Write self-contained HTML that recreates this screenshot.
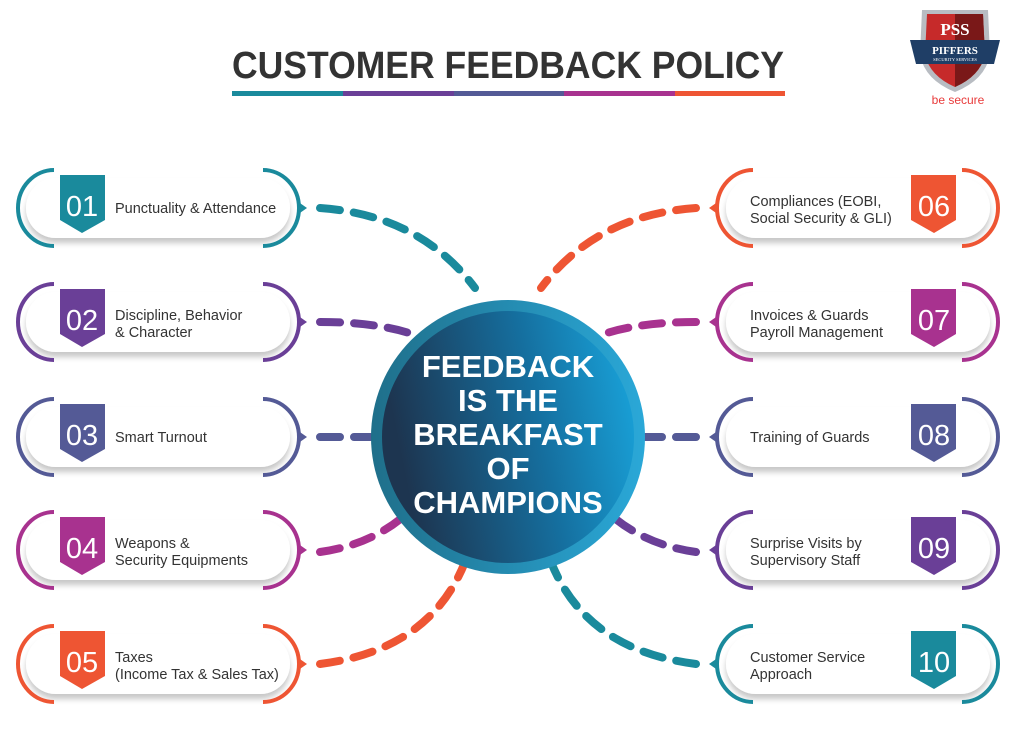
<!DOCTYPE html>
<html><head><meta charset="utf-8"><style>
html,body{margin:0;padding:0;background:#fff}
svg{display:block;font-family:"Liberation Sans",Arial,sans-serif}
</style></head><body>
<svg width="1024" height="730" viewBox="0 0 1024 730" xmlns="http://www.w3.org/2000/svg">
<defs>
<linearGradient id="ig" x1="0" x2="1" y1="0.2" y2="0"><stop offset="0" stop-color="#1d3550"/><stop offset="0.55" stop-color="#156f9f"/><stop offset="1" stop-color="#19a8e0"/></linearGradient>
<linearGradient id="og" x1="0" x2="1"><stop offset="0" stop-color="#1f6f8a"/><stop offset="1" stop-color="#2aa8d8"/></linearGradient>
<filter id="sh" x="-10%" y="-20%" width="120%" height="150%"><feDropShadow dx="0" dy="5" stdDeviation="3" flood-color="#000" flood-opacity="0.22"/></filter>
<g id="pill">
<rect x="26" y="-30" width="264" height="60" rx="30" fill="#fff" filter="url(#sh)"/>
</g>
</defs>

<text x="508" y="78" text-anchor="middle" font-size="38" font-weight="bold" fill="#333" textLength="552" lengthAdjust="spacingAndGlyphs">CUSTOMER FEEDBACK POLICY</text>
<rect x="232" y="91" width="111" height="5" fill="#1a8a9c"/>
<rect x="343" y="91" width="111" height="5" fill="#6a3f97"/>
<rect x="454" y="91" width="110" height="5" fill="#545a96"/>
<rect x="564" y="91" width="111" height="5" fill="#a8328f"/>
<rect x="675" y="91" width="110" height="5" fill="#ee5533"/>

<!-- logo -->
<path d="M922 10 L988 10 L990 55 Q985 80 955 92 Q925 80 920 55 Z" fill="#b8bcc2"/>
<path d="M927 14 L983 14 L985 55 Q980 76 955 87 Q930 76 925 55 Z" fill="#c62a2a"/>
<path d="M955 14 L983 14 L985 55 Q980 76 955 87 Z" fill="#7a1818"/>
<text x="955" y="35" text-anchor="middle" font-family="Liberation Serif,serif" font-weight="bold" font-size="17" fill="#fff">PSS</text>
<path d="M910 40 L1000 40 L994 64 L916 64 Z" fill="#1f3e66"/>
<text x="955" y="54" text-anchor="middle" font-family="Liberation Serif,serif" font-weight="bold" font-size="11" fill="#fff">PIFFERS</text>
<text x="955" y="61" text-anchor="middle" font-family="Liberation Serif,serif" font-size="4.5" fill="#fff">SECURITY SERVICES</text>
<text x="958" y="104" text-anchor="middle" font-size="12" fill="#e83a3a">be secure</text>

<!-- connectors -->
<g fill="none" stroke-width="8" stroke-linecap="round" stroke-dasharray="20 14">
<path d="M320 208 Q420 215 475 288" stroke="#1a8a9c"/>
<path d="M320 322 Q380 322 418 336" stroke="#6a3f97"/>
<path d="M320 437 L375 437" stroke="#545a96"/>
<path d="M320 552 Q370 545 404 516" stroke="#a8328f"/>
<path d="M320 664 Q430 650 465 562" stroke="#ee5533"/>
<path d="M696 208 Q596 215 541 288" stroke="#ee5533"/>
<path d="M696 322 Q636 322 598 336" stroke="#a8328f"/>
<path d="M696 437 L641 437" stroke="#545a96"/>
<path d="M696 552 Q646 545 612 516" stroke="#6a3f97"/>
<path d="M696 664 Q586 650 551 562" stroke="#1a8a9c"/>
</g>

<!-- circle -->
<circle cx="508" cy="437" r="137" fill="url(#og)"/>
<circle cx="508" cy="437" r="126" fill="url(#ig)"/>
<g fill="#fff" font-weight="bold" font-size="31" text-anchor="middle">
<text x="508" y="377">FEEDBACK</text>
<text x="508" y="411">IS THE</text>
<text x="508" y="445">BREAKFAST</text>
<text x="508" y="479">OF</text>
<text x="508" y="513">CHAMPIONS</text>
</g>

<!-- left items -->
<g>
<g transform="translate(0,208)"><use href="#pill"/><path d="M54 -38 A36 38 0 0 0 54 38" fill="none" stroke="#1a8a9c" stroke-width="4"/><path d="M263 -38 A36 38 0 0 1 263 38" fill="none" stroke="#1a8a9c" stroke-width="4"/><path d="M297 -7 L307 0 L297 7Z" fill="#1a8a9c"/><path d="M60 -33 L105 -33 L105 12 L82 25 L60 12Z" fill="#1a8a9c"/><text x="82" y="8" text-anchor="middle" font-size="29" fill="#fff">01</text><text x="115" y="5" font-size="14.5" fill="#333">Punctuality &amp; Attendance</text></g>
<g transform="translate(0,322)"><use href="#pill"/><path d="M54 -38 A36 38 0 0 0 54 38" fill="none" stroke="#6a3f97" stroke-width="4"/><path d="M263 -38 A36 38 0 0 1 263 38" fill="none" stroke="#6a3f97" stroke-width="4"/><path d="M297 -7 L307 0 L297 7Z" fill="#6a3f97"/><path d="M60 -33 L105 -33 L105 12 L82 25 L60 12Z" fill="#6a3f97"/><text x="82" y="8" text-anchor="middle" font-size="29" fill="#fff">02</text><text x="115" y="-2" font-size="14.5" fill="#333">Discipline, Behavior</text><text x="115" y="15" font-size="14.5" fill="#333">&amp; Character</text></g>
<g transform="translate(0,437)"><use href="#pill"/><path d="M54 -38 A36 38 0 0 0 54 38" fill="none" stroke="#545a96" stroke-width="4"/><path d="M263 -38 A36 38 0 0 1 263 38" fill="none" stroke="#545a96" stroke-width="4"/><path d="M297 -7 L307 0 L297 7Z" fill="#545a96"/><path d="M60 -33 L105 -33 L105 12 L82 25 L60 12Z" fill="#545a96"/><text x="82" y="8" text-anchor="middle" font-size="29" fill="#fff">03</text><text x="115" y="5" font-size="14.5" fill="#333">Smart Turnout</text></g>
<g transform="translate(0,550)"><use href="#pill"/><path d="M54 -38 A36 38 0 0 0 54 38" fill="none" stroke="#a8328f" stroke-width="4"/><path d="M263 -38 A36 38 0 0 1 263 38" fill="none" stroke="#a8328f" stroke-width="4"/><path d="M297 -7 L307 0 L297 7Z" fill="#a8328f"/><path d="M60 -33 L105 -33 L105 12 L82 25 L60 12Z" fill="#a8328f"/><text x="82" y="8" text-anchor="middle" font-size="29" fill="#fff">04</text><text x="115" y="-2" font-size="14.5" fill="#333">Weapons &amp;</text><text x="115" y="15" font-size="14.5" fill="#333">Security Equipments</text></g>
<g transform="translate(0,664)"><use href="#pill"/><path d="M54 -38 A36 38 0 0 0 54 38" fill="none" stroke="#ee5533" stroke-width="4"/><path d="M263 -38 A36 38 0 0 1 263 38" fill="none" stroke="#ee5533" stroke-width="4"/><path d="M297 -7 L307 0 L297 7Z" fill="#ee5533"/><path d="M60 -33 L105 -33 L105 12 L82 25 L60 12Z" fill="#ee5533"/><text x="82" y="8" text-anchor="middle" font-size="29" fill="#fff">05</text><text x="115" y="-2" font-size="14.5" fill="#333">Taxes</text><text x="115" y="15" font-size="14.5" fill="#333">(Income Tax &amp; Sales Tax)</text></g>
</g>

<!-- right items (shapes mirrored) -->
<g transform="translate(1016,0) scale(-1,1)">
<g transform="translate(0,208)"><use href="#pill"/><path d="M54 -38 A36 38 0 0 0 54 38" fill="none" stroke="#ee5533" stroke-width="4"/><path d="M263 -38 A36 38 0 0 1 263 38" fill="none" stroke="#ee5533" stroke-width="4"/><path d="M297 -7 L307 0 L297 7Z" fill="#ee5533"/><path d="M60 -33 L105 -33 L105 12 L82 25 L60 12Z" fill="#ee5533"/></g>
<g transform="translate(0,322)"><use href="#pill"/><path d="M54 -38 A36 38 0 0 0 54 38" fill="none" stroke="#a8328f" stroke-width="4"/><path d="M263 -38 A36 38 0 0 1 263 38" fill="none" stroke="#a8328f" stroke-width="4"/><path d="M297 -7 L307 0 L297 7Z" fill="#a8328f"/><path d="M60 -33 L105 -33 L105 12 L82 25 L60 12Z" fill="#a8328f"/></g>
<g transform="translate(0,437)"><use href="#pill"/><path d="M54 -38 A36 38 0 0 0 54 38" fill="none" stroke="#545a96" stroke-width="4"/><path d="M263 -38 A36 38 0 0 1 263 38" fill="none" stroke="#545a96" stroke-width="4"/><path d="M297 -7 L307 0 L297 7Z" fill="#545a96"/><path d="M60 -33 L105 -33 L105 12 L82 25 L60 12Z" fill="#545a96"/></g>
<g transform="translate(0,550)"><use href="#pill"/><path d="M54 -38 A36 38 0 0 0 54 38" fill="none" stroke="#6a3f97" stroke-width="4"/><path d="M263 -38 A36 38 0 0 1 263 38" fill="none" stroke="#6a3f97" stroke-width="4"/><path d="M297 -7 L307 0 L297 7Z" fill="#6a3f97"/><path d="M60 -33 L105 -33 L105 12 L82 25 L60 12Z" fill="#6a3f97"/></g>
<g transform="translate(0,664)"><use href="#pill"/><path d="M54 -38 A36 38 0 0 0 54 38" fill="none" stroke="#1a8a9c" stroke-width="4"/><path d="M263 -38 A36 38 0 0 1 263 38" fill="none" stroke="#1a8a9c" stroke-width="4"/><path d="M297 -7 L307 0 L297 7Z" fill="#1a8a9c"/><path d="M60 -33 L105 -33 L105 12 L82 25 L60 12Z" fill="#1a8a9c"/></g>
</g>
<g font-size="14.5" fill="#333">
<text x="750" y="206">Compliances (EOBI,</text><text x="750" y="223">Social Security &amp; GLI)</text>
<text x="750" y="320">Invoices &amp; Guards</text><text x="750" y="337">Payroll Management</text>
<text x="750" y="442">Training of Guards</text>
<text x="750" y="548">Surprise Visits by</text><text x="750" y="565">Supervisory Staff</text>
<text x="750" y="662">Customer Service</text><text x="750" y="679">Approach</text>
</g>
<g font-size="29" fill="#fff" text-anchor="middle">
<text x="934" y="216">06</text><text x="934" y="330">07</text><text x="934" y="445">08</text><text x="934" y="558">09</text><text x="934" y="672">10</text>
</g>
</svg>
</body></html>
